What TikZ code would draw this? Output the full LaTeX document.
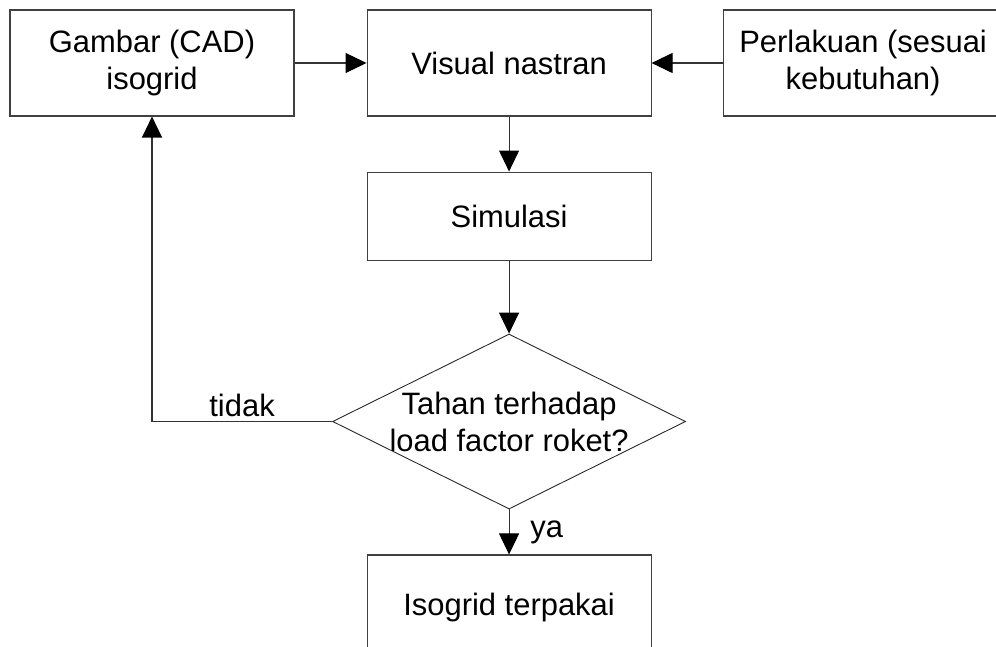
\documentclass[tikz,border=0pt]{standalone}
\usepackage{fontspec}
\setmainfont{Liberation Sans}
\usetikzlibrary{positioning,arrows.meta,shapes.geometric}
\tikzset{
  box/.style={draw=black!75,line width=0.6pt,minimum width=5.68cm,minimum height=2.12cm,align=center,font=\fontsize{17.6}{20.5}\selectfont},
  dbox/.style={diamond,draw=black!85,line width=0.5pt,aspect=2,inner sep=-1.6pt,minimum width=7.06cm,minimum height=3.5cm,align=center,font=\fontsize{17.6}{21}\selectfont},
  arrow/.style={-{Triangle[length=4.2mm,width=4mm,color=black]},line width=0.6pt,draw=black!80},
  lbl/.style={font=\fontsize{17.6}{20.5}\selectfont},
}
\begin{document}
\begin{tikzpicture}[node distance=1.1cm and 1.44cm]
    \useasboundingbox (0,0) rectangle (19.92,-12.94);
    \clip (0,0) rectangle (19.92,-12.94);
    \node[box] (gbr) at (3.04,-1.26) {Gambar (CAD)\\isogrid};
    \node[box,right=of gbr] (vis) {Visual nastran};
    \node[box,right=1.42cm of vis,minimum width=5.6cm] (per) {Perlakuan (sesuai\\kebutuhan)};
    \node[box,below=of vis,minimum height=1.76cm] (sim) {Simulasi};
    \node[dbox,below=1.46cm of sim] (tahan) {Tahan terhadap\\load factor roket?};
    \node[box,below=0.9cm of tahan] (pakai) {Isogrid terpakai};
    \draw[arrow] (gbr)--(vis); \draw[arrow] (per)--(vis);
    \draw[arrow] (vis)--(sim); \draw[arrow] (sim)--(tahan);
    \draw[arrow] (tahan)--node[lbl,right=0.3cm]{ya} (pakai);
    \draw[arrow] (tahan.west) -| node[lbl,pos=0.25,above=-1pt]{tidak} (gbr.south);
  \end{tikzpicture}
\end{document}
